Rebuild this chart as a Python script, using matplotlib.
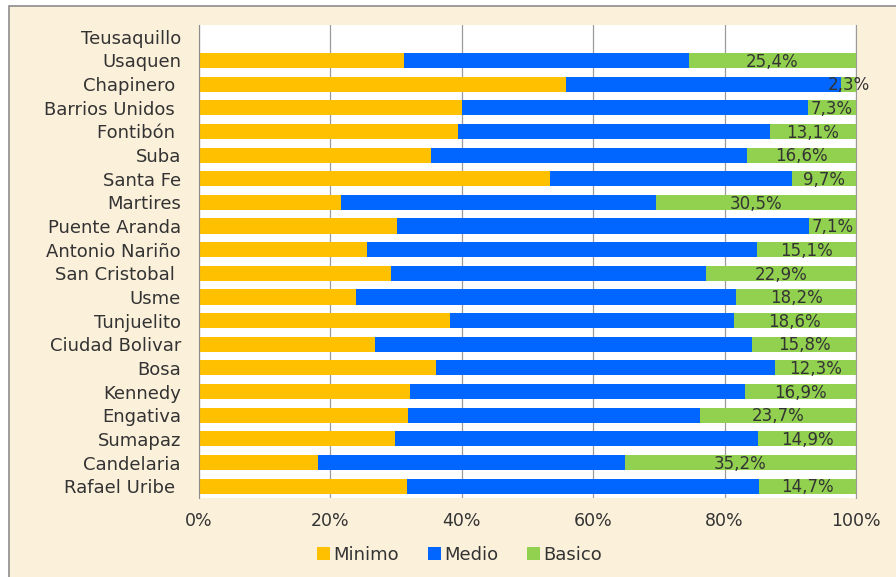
import matplotlib.pyplot as plt
from matplotlib.patches import Rectangle

# localidades, de arriba hacia abajo
localidades = ['Teusaquillo', 'Usaquen', 'Chapinero ', 'Barrios Unidos ', 'Fontibón ',
               'Suba', 'Santa Fe', 'Martires', 'Puente Aranda', 'Antonio Nariño',
               'San Cristobal ', 'Usme', 'Tunjuelito', 'Ciudad Bolivar', 'Bosa',
               'Kennedy', 'Engativa', 'Sumapaz', 'Candelaria', 'Rafael Uribe ']

minimo = [0, 31.2, 55.9, 40.0, 39.4, 35.3, 53.4, 21.6, 30.1, 25.6,
          29.2, 23.9, 38.2, 26.8, 36.1, 32.1, 31.8, 29.8, 18.1, 31.7]
medio = [0, 43.4, 41.8, 52.7, 47.5, 48.1, 36.9, 47.9, 62.8, 59.3,
         47.9, 57.9, 43.2, 57.4, 51.6, 51.0, 44.5, 55.3, 46.7, 53.6]
basico = [0, 25.4, 2.3, 7.3, 13.1, 16.6, 9.7, 30.5, 7.1, 15.1,
          22.9, 18.2, 18.6, 15.8, 12.3, 16.9, 23.7, 14.9, 35.2, 14.7]

c_min = '#FFC000'
c_med = '#0066FF'
c_bas = '#92D050'
texto = '#333333'

fig = plt.figure(figsize=(8.96, 5.77), dpi=100, facecolor='white')
# marco con fondo beige (se corta a la derecha y abajo)
marco = Rectangle((9 / 896, -0.1), 1.1, 1.1 - 6 / 577, transform=fig.transFigure,
                  facecolor='#FBF0DA', edgecolor='#8C8C8C', lw=1.2, zorder=-10)
fig.add_artist(marco)

ax = fig.add_axes([199 / 896, 79 / 577, 657 / 896, 473 / 577])
ax.set_facecolor('white')

y = list(range(len(localidades)))
izq2 = [a + b for a, b in zip(minimo, medio)]
h = 0.64
ax.barh(y, minimo, height=h, color=c_min, label='Minimo', zorder=2)
ax.barh(y, medio, left=minimo, height=h, color=c_med, label='Medio', zorder=2)
ax.barh(y, basico, left=izq2, height=h, color=c_bas, label='Basico', zorder=2)

for i in y:
    if basico[i] > 0:
        ax.text(izq2[i] + basico[i] / 2, i + 0.05, f'{basico[i]:.1f}%'.replace('.', ','),
                ha='center', va='center', fontsize=12, color=texto, zorder=3)

ax.set_xlim(0, 100)
ax.set_ylim(len(localidades) - 0.5, -0.5)
ax.set_yticks(y)
ax.set_yticklabels(localidades, fontsize=13, color=texto)
ax.set_xticks([0, 20, 40, 60, 80, 100])
ax.set_xticklabels(['0%', '20%', '40%', '60%', '80%', '100%'], fontsize=12.5, color=texto)
ax.tick_params(axis='y', length=0, pad=13)
ax.tick_params(axis='x', length=0, pad=10)
ax.grid(axis='x', color='#9A9A9A', lw=0.9, zorder=1)
for s in ['top', 'bottom']:
    ax.spines[s].set_visible(False)
ax.spines['left'].set_color('#8C8C8C')
ax.spines['right'].set_color('#9A9A9A')

leg = fig.legend(loc='center', bbox_to_anchor=(0.513, 22 / 577), ncol=3, frameon=False,
                 fontsize=13, handlelength=0.7, handleheight=0.7, handletextpad=0.2,
                 columnspacing=1.6)
for t in leg.get_texts():
    t.set_color(texto)

fig.savefig('out.png', dpi=100, facecolor=fig.get_facecolor())
